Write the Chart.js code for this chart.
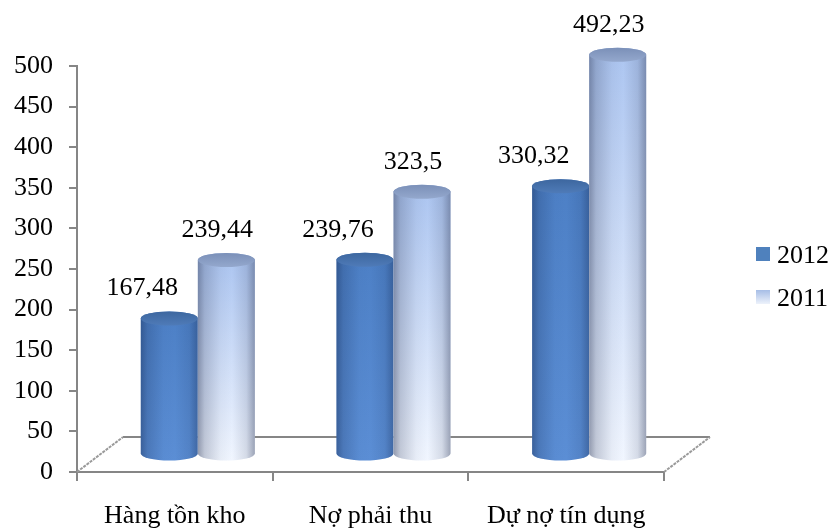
<!DOCTYPE html>
<html><head><meta charset="utf-8">
<script src="https://cdn.jsdelivr.net/npm/chart.js@4"></script>
<style>html,body{margin:0;padding:0;background:#fff;overflow:hidden}</style>
</head><body>
<canvas id="c" width="832" height="530"></canvas>
<script>
const categories = ['Hàng tồn kho', 'Nợ phải thu', 'Dự nợ tín dụng'];
const seriesNames = ['2012', '2011'];
const values2012 = [167.48, 239.76, 330.32];
const values2011 = [239.44, 323.5, 492.23];
const yMin = 0, yMax = 500, yStep = 50;

const FONT = "'Liberation Serif','Times New Roman',serif";
Chart.defaults.font.family = FONT;
Chart.defaults.font.size = 26;
Chart.defaults.color = '#000';

const AXIS = '#868686';
const FLOOR_DX = 46, FLOOR_DY = -35;   // 3D floor depth
const BAR_DX = 23, BAR_DY = -17.5;     // bars sit at mid depth
const RY = 7;                          // ellipse half-height of caps

const styles = [
  { base: ['#4d80c6', '#5b8ed5'], shade: 'rgba(15,35,75,', a: [0.42, 0.2, 0.02, 0.0, 0.1, 0.35], cap: ['#3d679f', '#4f7bb8'], legend: ['#4f81bd', '#4f81bd'], labelDx: -27 },
  { base: ['#adc6f1', '#f1f6ff'], shade: 'rgba(55,65,95,', a: [0.5, 0.25, 0.05, 0.0, 0.15, 0.45], cap: ['#7b90b8', '#94a8cd'], legend: ['#a6bde6', '#edf2fb'], labelDx: -9 }
];

function fmt(v) { return String(v).replace('.', ','); }

function drawCylinder(ctx, el, st) {
  const p = el.getProps(['x', 'y', 'base', 'width'], true);
  const w = p.width, rx = w / 2;
  const cx = p.x + BAR_DX, x0 = cx - rx, x1 = cx + rx;
  const yt = p.y + BAR_DY, yb = p.base + BAR_DY;
  const body = () => {
    ctx.beginPath();
    ctx.moveTo(x0, yt);
    ctx.lineTo(x0, yb);
    ctx.ellipse(cx, yb, rx, RY, 0, Math.PI, 0, true);
    ctx.lineTo(x1, yt);
    ctx.ellipse(cx, yt, rx, RY, 0, 0, Math.PI, true);
    ctx.closePath();
  };
  const vg = ctx.createLinearGradient(0, yt, 0, yb + RY);
  vg.addColorStop(0, st.base[0]);
  vg.addColorStop(1, st.base[1]);
  body(); ctx.fillStyle = vg; ctx.fill();
  const hg = ctx.createLinearGradient(x0, 0, x1, 0);
  const pos = [0, 0.12, 0.4, 0.6, 0.85, 1];
  pos.forEach((q, i) => hg.addColorStop(q, st.shade + st.a[i] + ')'));
  body(); ctx.fillStyle = hg; ctx.fill();
  const cg = ctx.createLinearGradient(0, yt - RY, 0, yt + RY);
  cg.addColorStop(0, st.cap[0]);
  cg.addColorStop(1, st.cap[1]);
  ctx.beginPath();
  ctx.ellipse(cx, yt, rx, RY, 0, 0, Math.PI * 2);
  ctx.fillStyle = cg; ctx.fill();
}

const plugin3d = {
  id: 'cyl3d',
  beforeDatasetsDraw(chart) {
    const { ctx, chartArea: a } = chart;
    ctx.save();
    ctx.strokeStyle = AXIS; ctx.lineWidth = 2;
    ctx.beginPath();
    ctx.moveTo(a.left + FLOOR_DX, a.bottom + FLOOR_DY);
    ctx.lineTo(a.right + FLOOR_DX, a.bottom + FLOOR_DY);
    ctx.stroke();
    ctx.strokeStyle = '#9a9a9a'; ctx.lineWidth = 2;
    ctx.setLineDash([3, 1]);
    ctx.beginPath();
    ctx.moveTo(a.left, a.bottom); ctx.lineTo(a.left + FLOOR_DX, a.bottom + FLOOR_DY);
    ctx.moveTo(a.right, a.bottom); ctx.lineTo(a.right + FLOOR_DX, a.bottom + FLOOR_DY);
    ctx.stroke();
    ctx.restore();
  },
  beforeDatasetDraw() { return false; },
  afterDatasetsDraw(chart) {
    const ctx = chart.ctx;
    ctx.save();
    const n = chart.data.labels.length;
    for (let i = 0; i < n; i++) {
      chart.data.datasets.forEach((ds, di) => {
        const el = chart.getDatasetMeta(di).data[i];
        drawCylinder(ctx, el, styles[di]);
      });
    }
    ctx.fillStyle = '#000';
    ctx.font = '26px ' + FONT;
    ctx.textAlign = 'center';
    ctx.textBaseline = 'middle';
    chart.data.datasets.forEach((ds, di) => {
      chart.getDatasetMeta(di).data.forEach((el, i) => {
        const p = el.getProps(['x', 'y'], true);
        ctx.fillText(fmt(ds.data[i]), p.x + BAR_DX + styles[di].labelDx, p.y + BAR_DY - 30);
      });
    });
    ctx.restore();
  },
  afterDraw(chart) {
    const { ctx, chartArea: a } = chart;
    ctx.save();
    ctx.font = '26px ' + FONT;
    ctx.textAlign = 'left';
    ctx.textBaseline = 'middle';
    const lx = a.right + 92;
    const yc = [254, 297];
    chart.data.datasets.forEach((ds, di) => {
      const y = yc[di];
      const g = ctx.createLinearGradient(0, y - 7, 0, y + 7);
      g.addColorStop(0, styles[di].legend[0]);
      g.addColorStop(1, styles[di].legend[1]);
      ctx.fillStyle = g;
      ctx.fillRect(lx, y - 7, 14, 14);
      ctx.fillStyle = '#000';
      ctx.fillText(ds.label, lx + 21, y + 2);
    });
    ctx.restore();
  }
};

new Chart(document.getElementById('c'), {
  type: 'bar',
  data: {
    labels: categories,
    datasets: [
      { label: seriesNames[0], data: values2012, backgroundColor: '#4f81bd', clip: false },
      { label: seriesNames[1], data: values2011, backgroundColor: '#c5d5f0', clip: false }
    ]
  },
  options: {
    responsive: false,
    animation: false,
    devicePixelRatio: 1,
    categoryPercentage: 0.583,
    barPercentage: 1.0,
    layout: { padding: { top: 66, right: 168, left: 0, bottom: 0 } },
    plugins: { legend: { display: false }, tooltip: { enabled: false } },
    scales: {
      x: {
        grid: { offset: true, drawOnChartArea: false, tickLength: 9, color: AXIS, lineWidth: 2 },
        border: { color: AXIS, width: 2 },
        ticks: { padding: 20, color: '#000', font: { size: 26 }, maxRotation: 0, autoSkip: false },
        afterFit(s) { s.height = 58; }
      },
      y: {
        min: yMin, max: yMax,
        grid: { drawOnChartArea: false, tickLength: 8, color: AXIS, lineWidth: 2 },
        border: { color: AXIS, width: 2 },
        ticks: { stepSize: yStep, padding: 16, color: '#000', font: { size: 26 } },
        afterFit(s) { s.width = 77; }
      }
    }
  },
  plugins: [plugin3d]
});
</script>
</body></html>
